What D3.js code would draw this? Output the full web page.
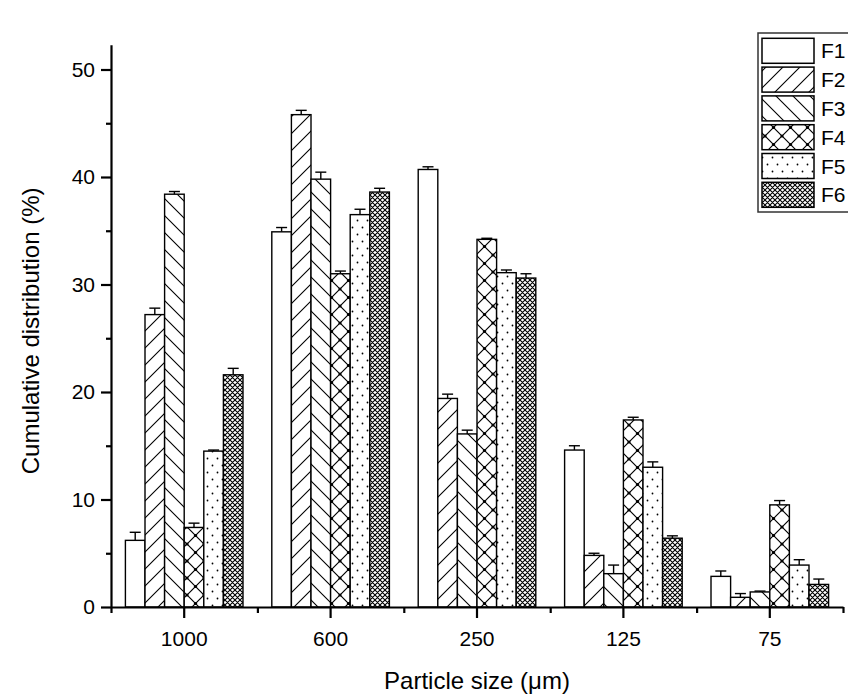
<!DOCTYPE html>
<html><head><meta charset="utf-8">
<script src="https://cdn.jsdelivr.net/npm/d3@7"></script>
<style>
body{margin:0;background:#fff;}
svg{display:block;font-family:"Liberation Sans",Arial,sans-serif;}
</style></head>
<body>
<svg id="chart" width="848" height="700"></svg>
<script>
const categories = ["1000","600","250","125","75"];
const series = ["F1","F2","F3","F4","F5","F6"];
const F1 = [6.2, 34.9, 40.7, 14.6, 2.85];
const F2 = [27.2, 45.8, 19.4, 4.8, 0.9];
const F3 = [38.4, 39.8, 16.1, 3.1, 1.4];
const F4 = [7.4, 31.0, 34.2, 17.4, 9.5];
const F5 = [14.5, 36.5, 31.1, 13.0, 3.9];
const F6 = [21.6, 38.6, 30.6, 6.4, 2.1];
const F1err = [0.75, 0.4, 0.25, 0.4, 0.5];
const F2err = [0.6, 0.4, 0.4, 0.2, 0.35];
const F3err = [0.25, 0.65, 0.35, 0.8, 0.08];
const F4err = [0.4, 0.25, 0.1, 0.25, 0.4];
const F5err = [0.1, 0.5, 0.25, 0.5, 0.5];
const F6err = [0.6, 0.35, 0.4, 0.22, 0.5];
const yMajorTicks = [0,10,20,30,40,50];
const yMinorTicks = [5,15,25,35,45];
const yTitle = "Cumulative distribution (%)";
const xTitle = "Particle size (μm)";

const values = [F1,F2,F3,F4,F5,F6];
const errors = [F1err,F2err,F3err,F4err,F5err,F6err];

const svg = d3.select("#chart");
const yMax = 52.3;
const mLeft = 111, mRight = 843, mBottom = 607, mTop = 607 - 10.75*yMax;

const x = d3.scaleBand().domain(categories).range([mLeft,mRight]).paddingInner(0).paddingOuter(0);
const xs = d3.scaleBand().domain(series).range([0,x.bandwidth()]).paddingInner(0).paddingOuter(0.735);
const y = d3.scaleLinear().domain([0,yMax]).range([mBottom,mTop]);
const xEdge = d3.scaleLinear().domain([0,categories.length]).range([mLeft,mRight]);

// patterns
const defs = svg.append("defs");
function pat(id,w,h){
  const p = defs.append("pattern").attr("id",id).attr("patternUnits","userSpaceOnUse").attr("width",w).attr("height",h);
  p.append("rect").attr("width",w).attr("height",h).attr("fill","#fff");
  return p;
}
pat("pF1",10,10);
pat("pF2",17,17).append("path").attr("d","M0,17L17,0M-4,4L4,-4M13,21L21,13").attr("stroke","#000").attr("stroke-width",1.1).attr("fill","none");
pat("pF3",17,17).append("path").attr("d","M0,0L17,17M-4,13L4,21M13,-4L21,4").attr("stroke","#000").attr("stroke-width",1.1).attr("fill","none");
{
  const p = pat("pF4",17,17);
  p.append("path").attr("d","M0,17L17,0M-4,4L4,-4M13,21L21,13M0,0L17,17M-4,13L4,21M13,-4L21,4").attr("stroke","#000").attr("stroke-width",1.2).attr("fill","none");
  [[8.5,8.5],[0,0],[17,0],[0,17],[17,17]].forEach(c=>p.append("circle").attr("cx",c[0]).attr("cy",c[1]).attr("r",1.6).attr("fill","#000"));
}
{
  const p = pat("pF5",10,14);
  [[2.5,3.5],[7.5,10.5]].forEach(c=>p.append("circle").attr("cx",c[0]).attr("cy",c[1]).attr("r",0.9).attr("fill","#000"));
}
pat("pF6",5,5).append("path").attr("d","M0,0L5,5M0,5L5,0M-1,1L1,-1M4,6L6,4M-1,4L1,6M4,-1L6,1").attr("stroke","#000").attr("stroke-width",1.1).attr("fill","none");

// bars
const g = svg.append("g");
series.forEach((s,si)=>{
  const data = categories.map((c,ci)=>({c, v:values[si][ci], e:errors[si][ci]}));
  const sg = g.append("g");
  const cx = d=>x(d.c)+xs(s)+xs.bandwidth()/2;
  sg.selectAll("line.err").data(data).join("line").attr("class","err")
    .attr("x1",cx).attr("x2",cx)
    .attr("y1",d=>y(d.v)).attr("y2",d=>y(d.v+d.e)).attr("stroke","#000").attr("stroke-width",1.4);
  sg.selectAll("line.cap").data(data).join("line").attr("class","cap")
    .attr("x1",d=>cx(d)-5.5).attr("x2",d=>cx(d)+5.5)
    .attr("y1",d=>y(d.v+d.e)).attr("y2",d=>y(d.v+d.e)).attr("stroke","#000").attr("stroke-width",1.4);
  sg.selectAll("rect").data(data).join("rect")
    .attr("x",d=>x(d.c)+xs(s)).attr("width",xs.bandwidth())
    .attr("y",d=>y(d.v)).attr("height",d=>y(0)-y(d.v))
    .attr("fill",`url(#p${s})`).attr("stroke","#000").attr("stroke-width",1.4);
});

// axes
const fs = 21;
svg.append("g").attr("transform",`translate(${mLeft},0)`)
  .call(d3.axisLeft(y).tickValues(yMajorTicks).tickSize(10).tickPadding(6).tickSizeOuter(0));
svg.append("g").attr("transform",`translate(${mLeft},0)`)
  .call(d3.axisLeft(y).tickValues(yMinorTicks).tickSize(5).tickFormat("").tickSizeOuter(0))
  .select(".domain").remove();
svg.append("g").attr("transform",`translate(0,${mBottom})`)
  .call(d3.axisBottom(x).tickSize(11).tickPadding(13).tickSizeOuter(0));
svg.append("g").attr("transform",`translate(0,${mBottom})`)
  .call(d3.axisBottom(xEdge).tickValues(d3.range(categories.length+1)).tickSize(6).tickFormat("").tickSizeOuter(0))
  .select(".domain").remove();
svg.selectAll(".domain").attr("stroke","#000").attr("stroke-width",2.2);
svg.selectAll(".tick line").attr("stroke","#000").attr("stroke-width",2.2);
svg.selectAll(".tick text").attr("font-size",fs).attr("fill","#000").attr("font-family","'Liberation Sans',Arial,sans-serif");

// titles
svg.append("text").attr("transform",`translate(39,${(mTop+mBottom)/2+5}) rotate(-90)`)
  .attr("text-anchor","middle").attr("font-size",24).attr("fill","#000").text(yTitle);
svg.append("text").attr("x",(mLeft+mRight)/2).attr("y",689)
  .attr("text-anchor","middle").attr("font-size",24).attr("fill","#000").text(xTitle);

// legend
const lg = svg.append("g");
lg.append("rect").attr("x",758).attr("y",33).attr("width",110).attr("height",179).attr("fill","#fff").attr("stroke","#333").attr("stroke-width",1.5);
series.forEach((s,i)=>{
  const yy = 38.3 + i*28.8;
  lg.append("rect").attr("x",762).attr("y",yy).attr("width",52).attr("height",25).attr("fill",`url(#p${s})`).attr("stroke","#000").attr("stroke-width",1.5);
  lg.append("text").attr("x",821).attr("y",yy+20).attr("font-size",21).attr("fill","#000").text(s);
});
</script>
</body></html>
